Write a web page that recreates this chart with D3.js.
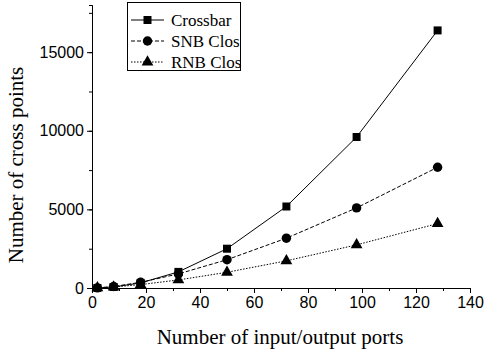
<!DOCTYPE html>
<html>
<head>
  <meta charset="utf-8">
  <script src="https://d3js.org/d3.v7.min.js"></script>
  <style>
    body { margin: 0; background: #fff; }
    .tick text { font-family: "Liberation Sans", Arial, sans-serif; font-size: 16px; fill: #000; }
    .domain, .tick line { stroke: #000; stroke-width: 1; }
    .title { font-family: "Liberation Serif", "Times New Roman", serif; font-size: 21px; fill: #000; }
    .legend text { font-family: "Liberation Serif", "Times New Roman", serif; font-size: 17px; fill: #000; }
  </style>
</head>
<body>
<svg width="485" height="352"></svg>
<script>

const ports = [2, 8, 18, 32, 50, 72, 98, 128]
const crossbar = [4, 64, 324, 1024, 2500, 5184, 9604, 16384]
const snbClos = [8, 96, 360, 896, 1800, 3168, 5096, 7680]
const rnbClos = [8, 64, 216, 512, 1000, 1728, 2744, 4096]
const seriesNames = ["Crossbar", "SNB Clos", "RNB Clos"]
const xTicks = [0, 20, 40, 60, 80, 100, 120, 140]
const yTicks = [0, 5000, 10000, 15000]

const svg = d3.select("svg")
const x = d3.scaleLinear().domain([0, 140]).range([92, 470])
const y = d3.scaleLinear().domain([0, 18000]).range([288, 5])

// minor ticks first, majors drawn over
svg.append("g")
  .attr("transform", "translate(0,288)")
  .call(d3.axisBottom(x).tickValues(d3.range(0, 141, 10)).tickSize(3).tickFormat(""))
svg.append("g")
  .attr("transform", "translate(0,288)")
  .call(d3.axisBottom(x).tickValues(xTicks).tickSize(5).tickSizeOuter(0).tickPadding(4))
svg.append("g")
  .attr("transform", "translate(92,0)")
  .call(d3.axisLeft(y).tickValues(d3.range(0, 18001, 2500)).tickSize(3).tickFormat(""))
svg.append("g")
  .attr("transform", "translate(92,0)")
  .call(d3.axisLeft(y).tickValues(yTicks).tickSize(5).tickSizeOuter(0).tickPadding(3).tickFormat(d3.format("d")))

svg.append("text").attr("class", "title")
  .attr("x", 280).attr("y", 344).attr("text-anchor", "middle")
  .text("Number of input/output ports")
svg.append("text").attr("class", "title")
  .attr("transform", "translate(23,165) rotate(-90)")
  .attr("text-anchor", "middle")
  .text("Number of cross points")

const dashes = [null, "4,2", "1.5,1.5"]
const symbols = [d3.symbolSquare, d3.symbolCircle, d3.symbolTriangle]
const sizes = [64, 70, 60]
const all = [crossbar, snbClos, rnbClos]

const line = d3.line().x((d, i) => x(ports[i])).y(d => y(d))

all.forEach((vals, s) => {
  svg.append("path")
    .datum(vals)
    .attr("fill", "none")
    .attr("stroke", "#000")
    .attr("stroke-width", 1)
    .attr("stroke-dasharray", dashes[s])
    .attr("d", line)
  svg.append("g").selectAll("path")
    .data(vals)
    .enter().append("path")
    .attr("transform", (d, i) => `translate(${x(ports[i])},${y(d)})`)
    .attr("d", d3.symbol().type(symbols[s]).size(sizes[s]))
    .attr("fill", "#000")
})

// legend
const lg = svg.append("g").attr("class", "legend")
lg.append("rect")
  .attr("x", 127.5).attr("y", 2.5).attr("width", 113).attr("height", 68)
  .attr("fill", "#fff").attr("stroke", "#000")
seriesNames.forEach((name, s) => {
  const ly = 20 + s * 21
  lg.append("line")
    .attr("x1", 131).attr("x2", 164).attr("y1", ly).attr("y2", ly)
    .attr("stroke", "#000").attr("stroke-dasharray", dashes[s])
  lg.append("path")
    .attr("transform", `translate(147.5,${ly})`)
    .attr("d", d3.symbol().type(symbols[s]).size(sizes[s]))
  lg.append("text").attr("x", 171).attr("y", ly + 6).text(name)
})

</script>
</body>
</html>
